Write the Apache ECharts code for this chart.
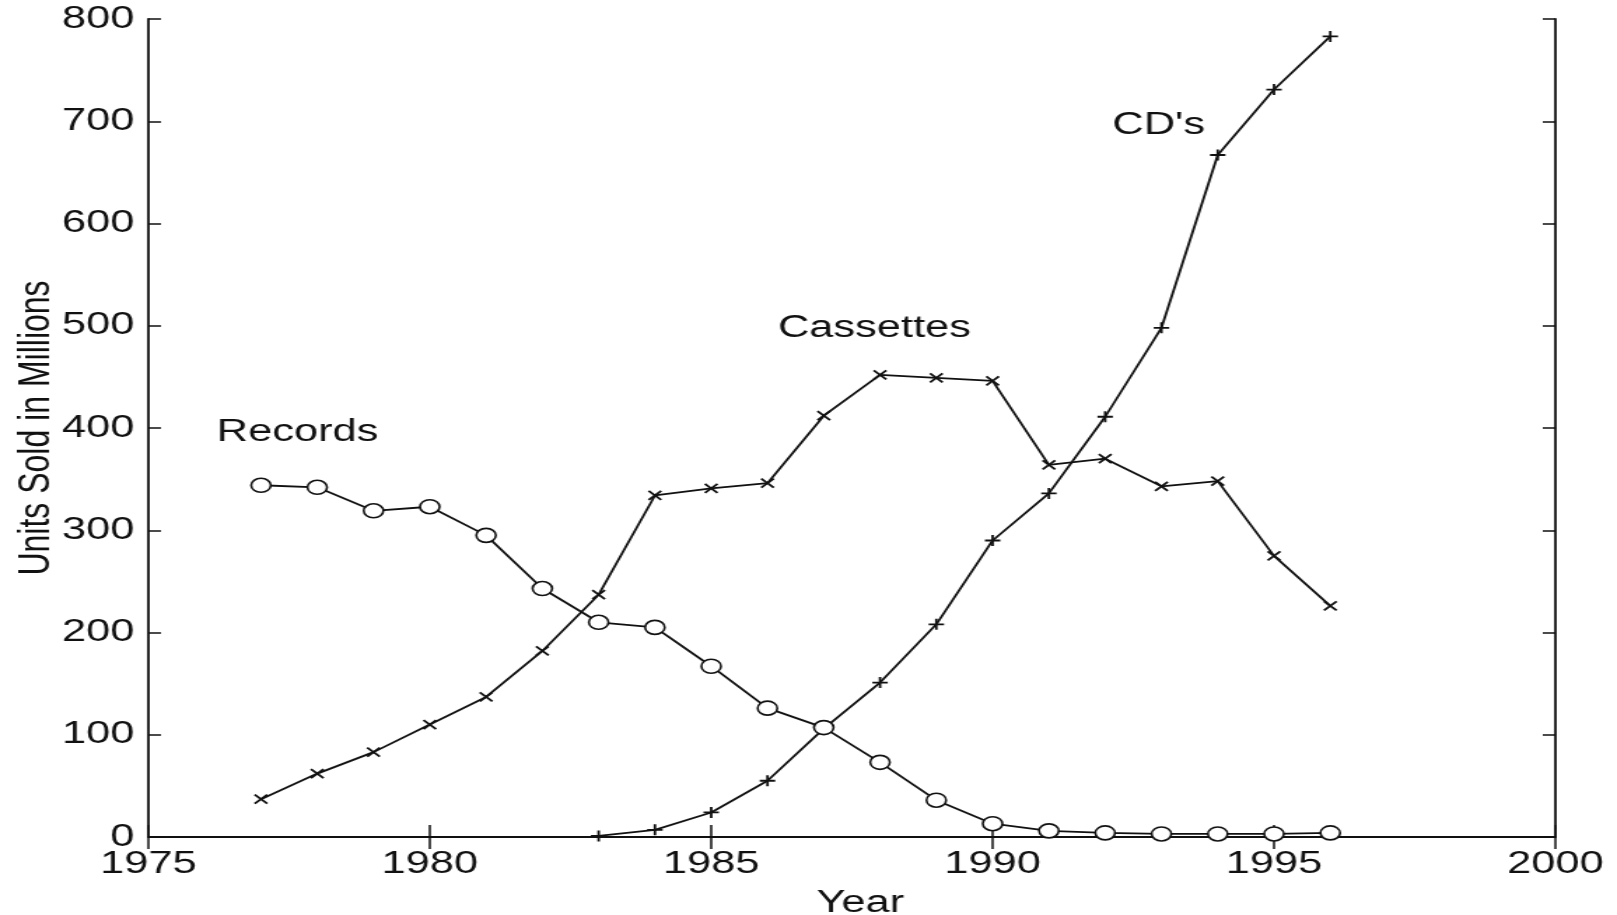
<!DOCTYPE html>
<html>
<head>
<meta charset="utf-8">
<title>Units Sold in Millions</title>
<script src="https://cdn.jsdelivr.net/npm/echarts@6/dist/echarts.min.js"></script>
<style>
  html, body { margin: 0; padding: 0; background: #fff; overflow: hidden; }
  /* the figure is laid out narrow and widened horizontally */
  #chart { width: 1155px; height: 915px; transform: scaleX(1.4); transform-origin: 0 0; }
</style>
</head>
<body>
<div id="chart"></div>
<script>
// Years covered by the records and cassettes series
const years = [1977, 1978, 1979, 1980, 1981, 1982, 1983, 1984, 1985, 1986,
               1987, 1988, 1989, 1990, 1991, 1992, 1993, 1994, 1995, 1996];
// Units sold in millions
const records = [344, 342, 319, 323, 295, 243, 210, 205, 167, 126,
                 107, 73, 36, 13, 6, 4, 3, 3, 3, 4];
const cassettes = [37, 62, 83, 110, 137, 182, 237, 334, 341, 346,
                   412, 452, 449, 446, 364, 370, 343, 348, 275, 226];
// CDs start in 1983
const cdYears = [1983, 1984, 1985, 1986, 1987, 1988, 1989, 1990, 1991, 1992, 1993, 1994, 1995, 1996];
const cds = [1, 7, 24, 55, 106, 151, 208, 290, 336, 411, 498, 667, 731, 783];

// Axis ticks
const xTicks = [1975, 1980, 1985, 1990, 1995, 2000];
const yTicks = [0, 100, 200, 300, 400, 500, 600, 700, 800];

// Curve annotations: [text, year, value]
const notes = [
  ['Records', 1977.65, 396],
  ['Cassettes', 1987.9, 497],
  ["CD's", 1992.95, 696]
];

const pairs = (xs, ys) => xs.map((x, i) => [x, ys[i]]);
const INK = '#111';
const FONT = 'Liberation Sans, Arial, Helvetica, sans-serif';

const crossPath = 'path://M0,0L10,10M10,0L0,10';
const plusPath = 'path://M5,0L5,10M0,5L10,5';

const axisLine = { show: true, lineStyle: { color: INK, width: 1.8 } };

function noteMark(name) {
  const n = notes.find(d => d[0] === name);
  return {
    symbol: 'circle',
    symbolSize: 0,
    silent: true,
    label: {
      show: true, position: 'inside', formatter: n[0],
      color: INK, fontFamily: FONT, fontSize: 31
    },
    data: [{ coord: [n[1], n[2]] }]
  };
}

const lineBase = {
  type: 'line',
  showAllSymbol: true,
  lineStyle: { color: INK, width: 1.8 },
  emphasis: { disabled: true },
  animation: false
};

const chart = echarts.init(document.getElementById('chart'));
chart.setOption({
  backgroundColor: '#fff',
  animation: false,
  grid: { left: 106, right: 44, top: 19, bottom: 78, containLabel: false, outerBoundsMode: 'none' },
  xAxis: [
    {
      type: 'value', min: xTicks[0], max: xTicks[xTicks.length - 1], interval: 5,
      position: 'bottom',
      name: 'Year', nameLocation: 'middle', nameGap: 51, nameMoveOverlap: false,
      nameTextStyle: { color: INK, fontFamily: FONT, fontSize: 31, padding: [0, 0, 0, 12] },
      axisLine: axisLine,
      axisTick: { show: true, inside: true, length: 12, lineStyle: { color: INK, width: 1.5 } },
      axisLabel: { color: INK, fontFamily: FONT, fontSize: 31, margin: 12,
                   formatter: v => String(v), showMinLabel: true, showMaxLabel: true },
      splitLine: { show: false }
    },
    {
      type: 'value', min: xTicks[0], max: xTicks[xTicks.length - 1], interval: 5,
      position: 'top',
      axisLine: axisLine,
      axisTick: { show: true, inside: true, length: 12, lineStyle: { color: INK, width: 1.5 } },
      axisLabel: { show: false },
      splitLine: { show: false }
    }
  ],
  yAxis: [
    {
      type: 'value', min: yTicks[0], max: yTicks[yTicks.length - 1], interval: 100,
      position: 'left',
      name: 'Units Sold in Millions', nameLocation: 'middle', nameGap: 64, nameMoveOverlap: false,
      nameTextStyle: { color: INK, fontFamily: FONT, fontSize: 32 },
      axisLine: axisLine,
      axisTick: { show: true, inside: true, length: 9, lineStyle: { color: INK, width: 1.5 } },
      axisLabel: { color: INK, fontFamily: FONT, fontSize: 31, margin: 10,
                   formatter: v => String(v) },
      splitLine: { show: false }
    },
    {
      type: 'value', min: yTicks[0], max: yTicks[yTicks.length - 1], interval: 100,
      position: 'right',
      axisLine: axisLine,
      axisTick: { show: true, inside: true, length: 9, lineStyle: { color: INK, width: 1.5 } },
      axisLabel: { show: false },
      splitLine: { show: false }
    }
  ],
  series: [
    Object.assign({}, lineBase, {
      name: 'Records',
      data: pairs(years, records),
      symbol: 'circle', symbolSize: 14,
      itemStyle: { color: '#fff', borderColor: INK, borderWidth: 1.6 },
      markPoint: noteMark('Records'),
      z: 3
    }),
    Object.assign({}, lineBase, {
      name: 'Cassettes',
      data: pairs(years, cassettes),
      symbol: crossPath, symbolSize: 9,
      itemStyle: { color: 'rgba(0,0,0,0)', borderColor: INK, borderWidth: 1.8 },
      markPoint: noteMark('Cassettes'),
      z: 2
    }),
    Object.assign({}, lineBase, {
      name: "CD's",
      data: pairs(cdYears, cds),
      symbol: plusPath, symbolSize: 11,
      itemStyle: { color: 'rgba(0,0,0,0)', borderColor: INK, borderWidth: 1.8 },
      markPoint: noteMark("CD's"),
      z: 2
    })
  ]
});
</script>
</body>
</html>
